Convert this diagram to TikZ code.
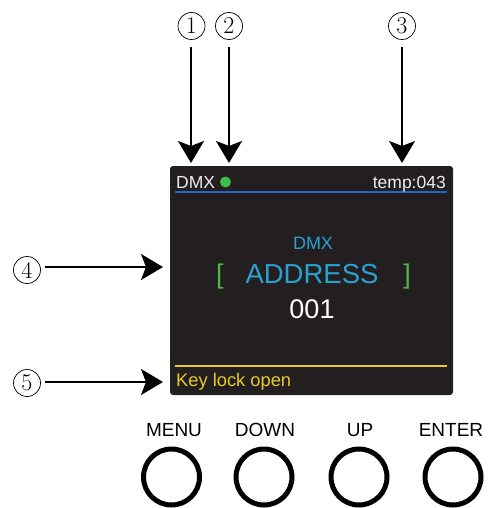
\documentclass[tikz,border=0pt]{standalone}
\usepackage{fontspec}
\setmainfont{Liberation Sans}
\newfontfamily\numfont{Latin Modern Roman}
\usetikzlibrary{arrows.meta}
\definecolor{scr}{HTML}{231F20}
\definecolor{cyanblue}{HTML}{2AA1D3}
\definecolor{brgreen}{HTML}{4DB848}
\definecolor{ylw}{HTML}{E8C92A}
\definecolor{lineblue}{HTML}{1F66CC}
\definecolor{dotgreen}{HTML}{3DBE4A}
\tikzset{
  callout/.style={circle,draw,line width=0.7pt,minimum size=27pt,inner sep=0pt,font=\numfont\fontsize{24}{24}\selectfont},
  pointer/.style={line width=2.2pt,-{Stealth[length=22pt,width=26pt,inset=5pt]}},
  btn/.style={circle,draw,line width=5pt,minimum size=56pt,inner sep=0pt},
  btnlabel/.style={anchor=base,font=\fontsize{19}{19}\selectfont,inner sep=0pt},
  hdr/.style={inner sep=0pt,font=\fontsize{17.5}{17.5}\selectfont,text=white!93!black},
}
\begin{document}
\begin{tikzpicture}[x=1pt,y=-1pt]
\useasboundingbox (0,0) rectangle (493,508);
% screen
\node[draw=none,fill=scr,rounded corners=3pt,minimum width=283pt,minimum height=229pt,inner sep=0pt] (screen) at (311.5,280.5) {};
\draw[lineblue,line width=1.8pt] (175,192) -- (447,192);
\draw[ylw,line width=1.4pt] (175,366) -- (447,366);
\node[hdr,anchor=base west] (dmx) at (176,188) {DMX};
\fill[dotgreen] (225.5,182) circle (5.5pt);
\node[hdr,anchor=base east] (temp) at (446,188) {temp:043};
\node[inner sep=0pt,anchor=base,text=cyanblue,font=\fontsize{18}{18}\selectfont] (dmx2) at (313,249) {DMX};
\node[inner sep=0pt,anchor=base,text=cyanblue,font=\fontsize{27.5}{27.5}\selectfont] (addr) at (312,283) {ADDRESS};
\node[inner sep=0pt,anchor=base west,text=brgreen,font=\fontsize{27}{27}\selectfont] (lb) at (216,283) {[};
\node[inner sep=0pt,anchor=base east,text=brgreen,font=\fontsize{27}{27}\selectfont] (rb) at (411,283) {]};
\node[inner sep=0pt,anchor=base,text=white,font=\fontsize{27}{27}\selectfont] (val) at (312,318) {001};
\node[inner sep=0pt,anchor=base west,text=ylw,font=\fontsize{18.3}{18.3}\selectfont] (key) at (176,386) {Key lock open};
% callouts
\node[callout] (c1) at (191.5,26) {1};
\node[callout] (c2) at (229,26) {2};
\node[callout] (c3) at (402,26) {3};
\node[callout] (c4) at (27,270) {4};
\node[callout] (c5) at (27,383) {5};
\coordinate (t1) at (191,163);
\coordinate (t2) at (229,163);
\coordinate (t3) at (402,163);
\coordinate (t4) at (163,267);
\coordinate (t5) at (163,382);
\draw[pointer] (c1.south -| t1) ++(0,7) -- (t1);
\draw[pointer] (c2.south -| t2) ++(0,7) -- (t2);
\draw[pointer] (c3.south -| t3) ++(0,7) -- (t3);
\draw[pointer] (c4.east |- t4) ++(4,0) -- (t4);
\draw[pointer] (c5.east |- t5) ++(4,0) -- (t5);
% buttons
\node[btnlabel] (lm) at (174,436) {MENU};
\node[btnlabel] (ld) at (265,436) {DOWN};
\node[btnlabel] (lu) at (360,436) {UP};
\node[btnlabel] (le) at (451,436) {ENTER};
\node[btn] (bm) at (171.5,477) {};
\node[btn] (bd) at (264,477) {};
\node[btn] (bu) at (359,477) {};
\node[btn] (be) at (453,477) {};
\end{tikzpicture}
\end{document}
